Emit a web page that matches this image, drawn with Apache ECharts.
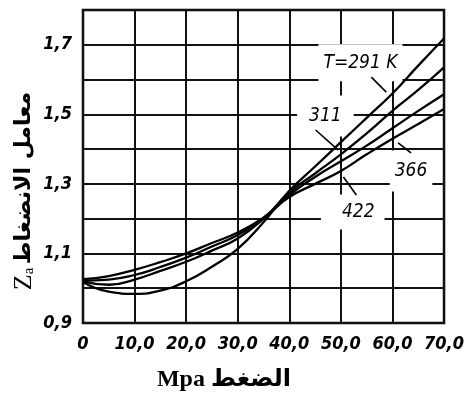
<!DOCTYPE html>
<html><head><meta charset="utf-8">
<script src="https://cdn.jsdelivr.net/npm/echarts@6/dist/echarts.min.js"></script>
<style>html,body{margin:0;padding:0;background:#fff}#c{width:467px;height:396px}</style>
</head><body><div id="c"></div>
<script>
// Data
const pressure = [0, 5, 10, 15, 20, 25, 30, 35, 40, 45, 50, 55, 60, 65, 70];
const z291 = [1.018, 0.990, 0.984, 0.993, 1.020, 1.062, 1.113, 1.190, 1.280, 1.350, 1.420, 1.490, 1.560, 1.640, 1.718];
const z311 = [1.020, 1.010, 1.025, 1.050, 1.076, 1.108, 1.143, 1.200, 1.275, 1.330, 1.385, 1.445, 1.510, 1.570, 1.635];
const z366 = [1.022, 1.025, 1.038, 1.061, 1.088, 1.120, 1.153, 1.202, 1.268, 1.320, 1.365, 1.410, 1.460, 1.510, 1.558];
const z422 = [1.026, 1.035, 1.053, 1.075, 1.100, 1.130, 1.160, 1.203, 1.262, 1.300, 1.337, 1.385, 1.430, 1.472, 1.515];

const xTickValues = [0, 10, 20, 30, 40, 50, 60, 70];
const xTickLabels = ['0', '10,0', '20,0', '30,0', '40,0', '50,0', '60,0', '70,0'];
const yTickValues = [0.9, 1.1, 1.3, 1.5, 1.7];
const yTickLabels = ['0,9', '1,1', '1,3', '1,5', '1,7'];

// Curve labels (anchored in data coordinates) and their leader lines
const curveLabels = ['T=291 K', '311', '366', '422'];
const labelAnchors = [[53.8, 1.648], [47.0, 1.495], [63.6, 1.337], [52.3, 1.219]];
const leaderLines = [
  [[55.9, 1.607], [58.8, 1.564]],
  [[45.1, 1.455], [49.5, 1.397]],
  [[61.1, 1.418], [63.6, 1.389]],
  [[50.5, 1.320], [53.0, 1.268]]
];

const xTitle = 'Mpa الضغط';
const yTitleMain = 'معامل الانضغاط';

const chart = echarts.init(document.getElementById('c'), null, {renderer: 'canvas'});
const tickFont = {
  color: '#000', fontSize: 18, fontStyle: 'italic', fontWeight: 'bold',
  fontFamily: "'Liberation Sans Narrow', 'DejaVu Sans Condensed', 'Liberation Sans', sans-serif"
};
function lineSeries(name, data) {
  return {
    name: name, type: 'line', smooth: true, showSymbol: false, symbol: 'none',
    data: pressure.map((p, i) => [p, data[i]]),
    lineStyle: {color: '#000', width: 2.3}, z: 3
  };
}
chart.setOption({
  animation: false,
  backgroundColor: '#fff',
  grid: {left: 83, right: 21, top: 10, bottom: 73, show: true, borderColor: '#000', borderWidth: 2.5, backgroundColor: 'transparent'},
  xAxis: {
    type: 'value', min: 0, max: 70, interval: 10,
    axisLine: {show: false}, axisTick: {show: false},
    splitLine: {show: true, lineStyle: {color: '#111', width: 2}},
    axisLabel: Object.assign({margin: 12, showMaxLabel: true, showMinLabel: true,
      formatter: v => { const i = xTickValues.findIndex(t => Math.abs(t - v) < 1e-6); return i >= 0 ? xTickLabels[i] : ''; }}, tickFont)
  },
  yAxis: {
    type: 'value', min: 0.9, max: 1.8, interval: 0.1,
    axisLine: {show: false}, axisTick: {show: false},
    splitLine: {show: true, lineStyle: {color: '#111', width: 2}},
    axisLabel: Object.assign({margin: 11,
      formatter: v => { const i = yTickValues.findIndex(t => Math.abs(t - v) < 1e-6); return i >= 0 ? yTickLabels[i] : ''; }}, tickFont)
  },
  series: [lineSeries('291', z291), lineSeries('311', z311), lineSeries('366', z366), lineSeries('422', z422)]
});

const px = p => chart.convertToPixel({gridIndex: 0}, p);
const labelFont = "italic 19px 'Liberation Sans Narrow', 'DejaVu Sans Condensed', sans-serif";
const paddings = [[9, 5, 9, 5], [11, 12, 11, 12], [11, 5, 11, 5], [8, 10, 8, 21]];
const graphics = [];
curveLabels.forEach((t, i) => {
  const c = px(labelAnchors[i]);
  graphics.push({
    type: 'text', x: c[0], y: c[1], z: 1, zlevel: 0,
    style: {text: t, font: labelFont, fill: '#000', align: 'center', verticalAlign: 'middle',
      backgroundColor: '#fff', padding: paddings[i]}
  });
  const a = px(leaderLines[i][0]), b = px(leaderLines[i][1]);
  graphics.push({type: 'line', z: 4, shape: {x1: a[0], y1: a[1], x2: b[0], y2: b[1]}, style: {stroke: '#000', lineWidth: 1.6}});
});
// axis titles
graphics.push({
  type: 'text', x: 24, y: 191, rotation: Math.PI / 2,
  style: {
    text: '{z|Z}{s|a} {ar|' + yTitleMain + '}', align: 'center', verticalAlign: 'middle', fill: '#000',
    rich: {
      z: {fontFamily: "'Liberation Serif', serif", fontSize: 26, fill: '#000'},
      s: {fontFamily: "'Liberation Serif', serif", fontSize: 15, fill: '#000', verticalAlign: 'bottom', padding: [10, 0, 0, 0]},
      ar: {fontFamily: "'DejaVu Sans', sans-serif", fontSize: 22, fontWeight: 'bold', fill: '#000'}
    }
  }
});
graphics.push({
  type: 'text', x: 224, y: 380,
  style: {text: xTitle, font: "bold 24px 'Liberation Serif', 'DejaVu Sans', serif", fill: '#000', align: 'center', verticalAlign: 'middle'}
});
chart.setOption({graphic: graphics});
</script></body></html>
